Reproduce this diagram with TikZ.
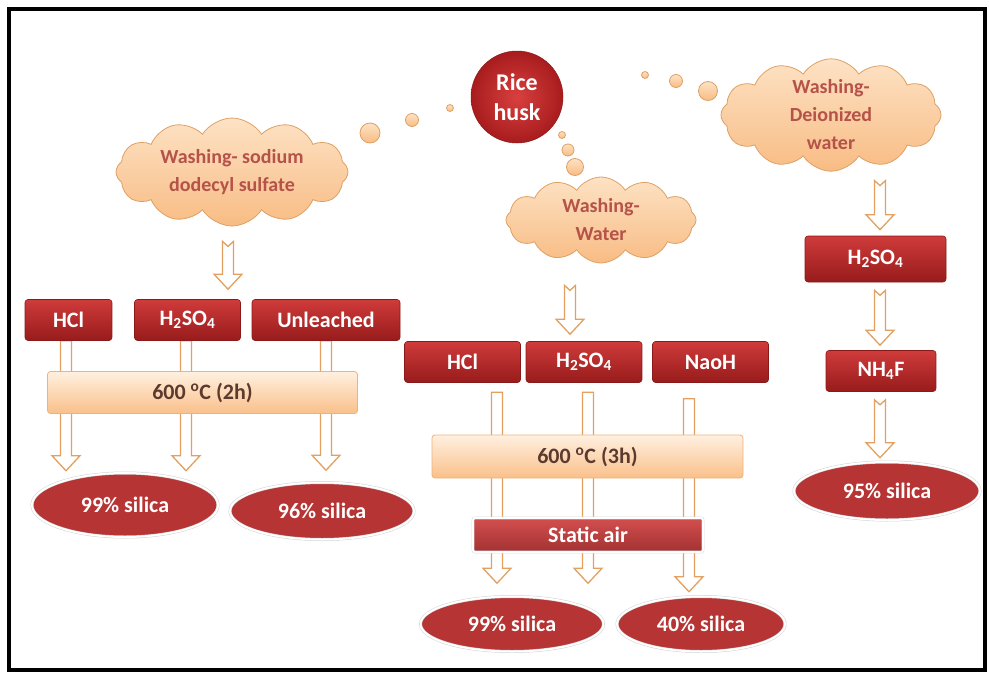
\documentclass[tikz,border=0pt]{standalone}
\usepackage{fontspec}
\setmainfont{Carlito}
\usetikzlibrary{shapes.symbols,shapes.geometric,calc,backgrounds}
\definecolor{arrowc}{HTML}{E3A060}
\definecolor{cloudtext}{HTML}{B5524A}
\definecolor{boxtop}{HTML}{CF3B3B}
\definecolor{boxbot}{HTML}{981B1B}
\definecolor{boxedge}{HTML}{8A1A1A}
\definecolor{ellfill}{HTML}{B73434}
\definecolor{bartop}{HTML}{FFF0E0}
\definecolor{barbot}{HTML}{FAC08A}
\definecolor{bardraw}{HTML}{F0B27A}
\definecolor{bartext}{HTML}{5C3B2E}
\definecolor{cloudtop}{HTML}{FDE2C4}
\definecolor{cloudbot}{HTML}{F8BC84}
\definecolor{clouddraw}{HTML}{DFA064}
\definecolor{riceinner}{HTML}{D8403E}
\definecolor{riceouter}{HTML}{A81C1E}
\begin{document}
\begin{tikzpicture}[x=1pt,y=-1pt,
  redbox/.style={rectangle, rounded corners=3pt, inner sep=0pt, draw=boxedge, line width=0.6pt,
    top color=boxtop, bottom color=boxbot, text=white, font=\bfseries\fontsize{22}{26}\selectfont},
  heatbar/.style={rectangle, rounded corners=3pt, inner sep=0pt, draw=bardraw, line width=0.8pt,
    top color=bartop, bottom color=barbot, text=bartext, font=\bfseries\fontsize{22}{26}\selectfont},
  airbox/.style={rectangle, rounded corners=2pt, inner sep=0pt, draw=black!15, line width=0.5pt,
    double=white, double distance=1.6pt, top color=boxtop!90!white, bottom color=boxbot!90!white,
    text=white, font=\bfseries\fontsize{22}{26}\selectfont},
  result/.style={ellipse, inner sep=0pt, fill=ellfill, draw=black!18, line width=0.5pt,
    double=white, double distance=2pt, text=white, font=\bfseries\fontsize{22}{26}\selectfont},
  washcloud/.style={cloud, cloud puffs=12, cloud puff arc=115, cloud ignores aspect, inner sep=0pt,
    draw=clouddraw, line width=0.8pt, top color=cloudtop, bottom color=cloudbot, text=cloudtext,
    align=center, font=\bfseries\fontsize{20}{28}\selectfont},
  bubble/.style={circle, inner sep=0pt, draw=clouddraw, line width=0.8pt, top color=cloudtop,
    bottom color=cloudbot},
  ricecircle/.style={circle, minimum size=92, inner sep=0pt, inner color=riceinner,
    outer color=riceouter, draw=riceouter!85!black, line width=0.5pt, text=white, align=center,
    font=\bfseries\fontsize{24}{30}\selectfont},
  blockarrow/.style={draw=arrowc, fill=white, line width=1.3pt, line join=miter,
    to path={let \p1=(\tikztostart), \p2=(\tikztotarget) in
      (\x2-5.5pt,\y1) -- (\x2+5.5pt,\y1) -- (\x2+5.5pt,\y2+15pt) -- (\x2+14pt,\y2+15pt)
      -- (\x2,\y2) -- (\x2-14pt,\y2+15pt) -- (\x2-5.5pt,\y2+15pt) -- cycle}},
  notcharrow/.style={draw=arrowc, fill=white, line width=1.3pt, line join=miter,
    to path={let \p1=(\tikztostart), \p2=(\tikztotarget) in
      (\x2-5.5pt,\y1) -- (\x2,\y1-5pt) -- (\x2+5.5pt,\y1) -- (\x2+5.5pt,\y2+15pt) -- (\x2+14pt,\y2+15pt)
      -- (\x2,\y2) -- (\x2-14pt,\y2+15pt) -- (\x2-5.5pt,\y2+15pt) -- cycle}}
]
\useasboundingbox (0,0) rectangle (989,675);

% start node
\node[ricecircle] (rice) at (517,97) {Rice\\husk};

% thought bubbles
\node[bubble, minimum size=20] (bl1) at (370,133) {};
\node[bubble, minimum size=13] (bl2) at (412,120) {};
\node[bubble, minimum size=7] (bl3) at (450,108) {};
\node[bubble, minimum size=7] (br1) at (645,75) {};
\node[bubble, minimum size=13] (br2) at (676,81) {};
\node[bubble, minimum size=19] (br3) at (708,91) {};
\node[bubble, minimum size=7] (bm1) at (562,135) {};
\node[bubble, minimum size=12] (bm2) at (568,150) {};
\node[bubble, minimum size=17] (bm3) at (575,167) {};

% clouds
\node[washcloud, minimum width=232, minimum height=108] (cloudL) at (232,172) {Washing- sodium\\dodecyl sulfate};
\node[washcloud, minimum width=190, minimum height=86] (cloudM) at (601,220) {Washing-\\Water};
\node[washcloud, minimum width=220, minimum height=108] (cloudR) at (831,115) {Washing-\\Deionized\\water};

% left branch
\node[redbox, minimum width=87, minimum height=41] (hclL) at (68.5,320) {HCl};
\node[redbox, minimum width=106, minimum height=41] (hsoL) at (187.5,320) {H\textsubscript{2}SO\textsubscript{4}};
\node[redbox, minimum width=148, minimum height=41] (unlL) at (326,320) {Unleached};
\node[heatbar, minimum width=310, minimum height=42] (bar2) at (202.5,392.5) {600 \textsuperscript{o}C (2h)};
\node[result, minimum width=186, minimum height=64] (e99L) at (125,505) {99\% silica};
\node[result, minimum width=184, minimum height=57] (e96L) at (322,511) {96\% silica};

% middle branch
\node[redbox, minimum width=116, minimum height=41] (hclM) at (462.5,362) {HCl};
\node[redbox, minimum width=116, minimum height=41] (hsoM) at (584,362) {H\textsubscript{2}SO\textsubscript{4}};
\node[redbox, minimum width=116, minimum height=41] (naoM) at (710.5,362) {NaoH};
\node[heatbar, minimum width=311, minimum height=43] (bar3) at (587.5,456.5) {600 \textsuperscript{o}C (3h)};
\node[airbox, minimum width=230, minimum height=34] (air) at (588,535) {Static air};
\node[result, minimum width=183, minimum height=55] (e99M) at (512,624) {99\% silica};
\node[result, minimum width=168, minimum height=55] (e40M) at (701,624) {40\% silica};

% right branch
\node[redbox, minimum width=141, minimum height=46] (hsoR) at (875.5,259) {H\textsubscript{2}SO\textsubscript{4}};
\node[redbox, minimum width=110, minimum height=41] (nh4) at (881,371) {NH\textsubscript{4}F};
\node[result, minimum width=186, minimum height=58] (e95) at (887,491) {95\% silica};

% connectors (block arrows, behind boxes and bars)
\begin{scope}[on background layer]
  \draw[notcharrow] ($(cloudL.south)+(-4,15)$) to ($(hsoL.north -| cloudL.south)+(-4,-10)$);
  \draw[notcharrow] ($(cloudM.south)+(-31,22)$) to ($(hsoM.north -| cloudM.south)+(-31,-7)$);
  \draw[notcharrow] ($(hsoR.north |- cloudR.south)+(4.5,9)$) to ($(hsoR.north)+(4.5,-6)$);
  \draw[notcharrow] ($(hsoR.south)+(4.5,8)$) to ($(nh4.north)+(-1,-5)$);
  \draw[notcharrow] ($(nh4.south)+(-1,8)$) to ($(nh4.south |- e95.north)+(-1,-4)$);

  \draw[blockarrow] (hclL.south) to ($(hclL.south |- e99L.north)+(-2.5,-2)$);
  \draw[blockarrow] (hsoL.south) to ($(hsoL.south |- e99L.north)+(-1.5,-2)$);
  \draw[blockarrow] (unlL.south) to ($(unlL.south |- e96L.north)+(0,-12)$);

  \draw[blockarrow] ($(hclM.south)+(34.5,9.5)$) to ($(hclM.south |- e99M.north)+(34.5,-13)$);
  \draw[blockarrow] ($(hsoM.south)+(4,9.5)$) to ($(hsoM.south |- e99M.north)+(4,-13)$);
  \draw[blockarrow] ($(naoM.south)+(-21.5,16)$) to ($(naoM.south |- e40M.north)+(-21.5,-4.5)$);
\end{scope}

% frame
\draw[line width=3.5pt] (9,9) rectangle (985,670);
\end{tikzpicture}
\end{document}
